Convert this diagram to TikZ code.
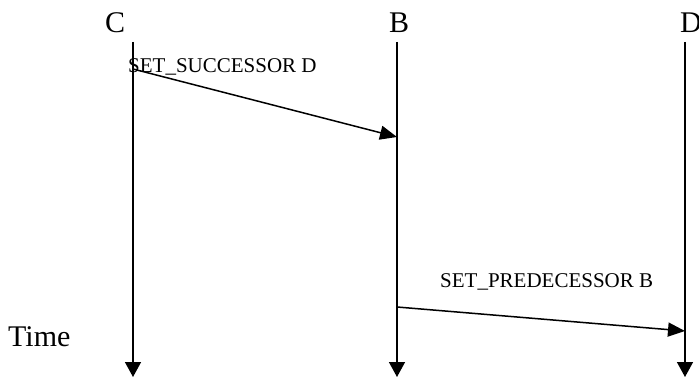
\documentclass[tikz,border=0pt]{standalone}
\usepackage{fontspec}
\setmainfont{Liberation Serif}
\usetikzlibrary{arrows.meta}
\begin{document}
\begin{tikzpicture}[x=1pt,y=-1pt,
  lifeline/.style={line width=1.5pt,-{Triangle[length=15pt,width=16pt]}},
  message/.style={line width=1.5pt,-{Triangle[length=17pt,width=14pt]}},
  actor/.style={anchor=base west,inner sep=0pt,font=\fontsize{30}{34}\selectfont},
  msglabel/.style={anchor=base west,inner sep=0pt,font=\fontsize{21}{24}\selectfont}]
  \useasboundingbox (0,0) rectangle (699,377);
  % actor names
  \node[actor] (nC) at (105,33) {C};
  \node[actor] (nB) at (389,33) {B};
  \node[actor] (nD) at (680,33) {D};
  \node[actor] (time) at (8,346) {Time};
  % lifelines
  \coordinate (Ctop) at (133,42);
  \coordinate (Cbot) at (133,377);
  \coordinate (Btop) at (397,42);
  \coordinate (Bbot) at (397,377);
  \coordinate (Dtop) at (685,42);
  \coordinate (Dbot) at (685,377);
  \draw[lifeline] (Ctop) -- (Cbot);
  \draw[lifeline] (Btop) -- (Bbot);
  \draw[lifeline] (Dtop) -- (Dbot);
  % messages
  \coordinate (m1s) at (133,69);
  \coordinate (m1e) at (397,137);
  \coordinate (m2s) at (397,307);
  \coordinate (m2e) at (685,331);
  \draw[message] (m1s) -- (m1e);
  \draw[message] (m2s) -- (m2e);
  \node[msglabel] (l1) at (128,73) {SET\_SUCCESSOR D};
  \node[msglabel] (l2) at (440,287) {SET\_PREDECESSOR B};
\end{tikzpicture}
\end{document}
